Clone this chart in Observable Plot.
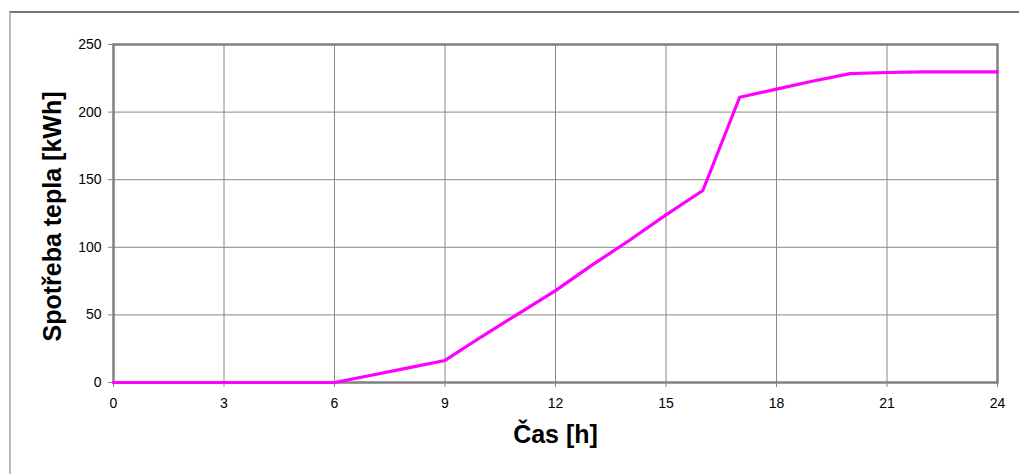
<!DOCTYPE html>
<html>
<head>
<meta charset="utf-8">
<script src="https://cdn.jsdelivr.net/npm/d3@7"></script>
<script src="https://cdn.jsdelivr.net/npm/@observablehq/plot@0.6"></script>
<style>
  html, body { margin: 0; padding: 0; background: #fff; }
  #wrap { position: relative; width: 1019px; height: 474px; overflow: hidden; }
  #border { position: absolute; left: 9px; top: 11px; width: 1020px; height: 480px;
            border-top: 2px solid #777; border-left: 2px solid #bbb; box-sizing: border-box; }
  #chart { position: absolute; left: 0; top: 0; }
</style>
</head>
<body>
<div id="wrap"><div id="border"></div><div id="chart"></div></div>
<script>
const hours = [0,1,2,3,4,5,6,7,8,9,10,11,12,13,14,15,16,17,18,19,20,21,22,23,24];
const heat  = [0,0,0,0,0,0,0,5.4,10.8,16.3,34,51,68,87,105,124,142,211,217,223,228.5,229.3,229.8,229.8,229.8];
const xTicks = [0,3,6,9,12,15,18,21,24];
const yTicks = [0,50,100,150,200,250];
const xTitle = "Čas [h]";
const yTitle = "Spotřeba tepla [kWh]";

const data = hours.map((h, i) => ({h, v: heat[i]}));

const chart = Plot.plot({
  width: 1019,
  height: 474,
  marginLeft: 113,
  marginRight: 22,
  marginTop: 44,
  marginBottom: 92,
  style: {fontFamily: "'Liberation Sans', Arial, sans-serif", background: "transparent"},
  x: {domain: [0, 24]},
  y: {domain: [0, 250]},
  marks: [
    Plot.gridX(xTicks, {stroke: "#888", strokeOpacity: 1, strokeWidth: 1}),
    Plot.gridY(yTicks, {stroke: "#888", strokeOpacity: 1, strokeWidth: 1}),
    Plot.frame({stroke: "#808080", strokeWidth: 2.5}),
    Plot.axisX({ticks: xTicks, tickSize: 5, tickPadding: 11, fontSize: 14, label: null, stroke: "#888", color: "#000"}),
    Plot.axisY({ticks: yTicks, tickSize: 5, tickPadding: 7, fontSize: 14, label: null, stroke: "#888", color: "#000"}),
    Plot.line(data, {x: "h", y: "v", stroke: "#ff00ff", strokeWidth: 3.2, strokeLinejoin: "miter"}),
    Plot.text([xTitle], {frameAnchor: "bottom", dy: 52, lineAnchor: "middle", textAnchor: "middle", fontSize: 25, fontWeight: "bold", fill: "#000"}),
    Plot.text([yTitle], {frameAnchor: "left", dx: -61, dy: 3, rotate: -90, lineAnchor: "middle", textAnchor: "middle", fontSize: 25, fontWeight: "bold", fill: "#000"})
  ]
});
document.getElementById("chart").appendChild(chart);
</script>
</body>
</html>
